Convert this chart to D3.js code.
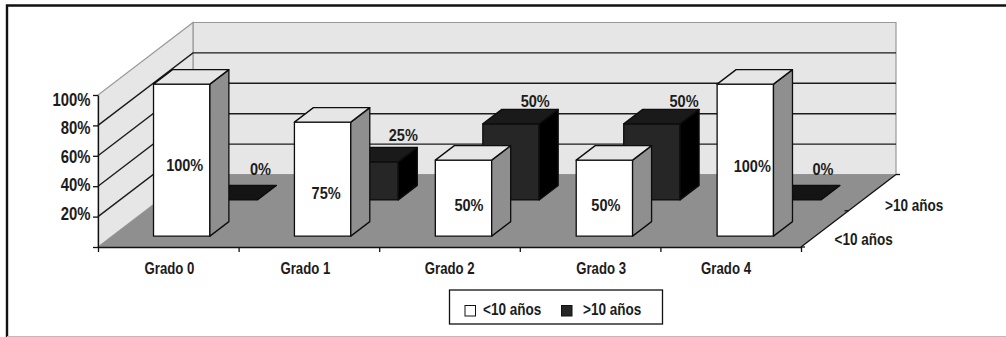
<!DOCTYPE html>
<html>
<head>
<meta charset="utf-8">
<script src="https://cdn.jsdelivr.net/npm/d3@7"></script>
<style>
html,body{margin:0;padding:0;background:#fff;overflow:hidden}
text{font-family:"Liberation Sans",sans-serif;font-weight:700;font-size:16.5px;fill:#1c1c1c}
</style>
</head>
<body>
<script>
// Chart data
const categories = ["Grado 0", "Grado 1", "Grado 2", "Grado 3", "Grado 4"];
const seriesNames = ["<10 años", ">10 años"];
const under10 = [100, 75, 50, 50, 100];
const over10 = [0, 25, 50, 50, 0];
const yTicks = [0, 20, 40, 60, 80, 100];

// Hand placement of the value and category labels, relative to their marks
const under10LabelShift = [[3, 5], [3.5, 14], [5.5, 7], [1.5, 7], [7, 6]];
const over10LabelShift = [[-16, -16], [-14, -12], [-23, -8], [-15, -8], [-17, -16]];
const categoryLabelShift = [2, -3, 0.5, 11, -5];
const yLabelShift = { 20: -3.6, 40: -2, 60: 0, 80: 2, 100: 4 };

const W = 1006, H = 337;
const origin = { x: 98, y: 247 };
const plotW = 703, plotH = 152;
const depth = { x: 95, y: -72.5 };

const svg = d3.select("body").append("svg").attr("width", W).attr("height", H);

const x = d3.scaleBand().domain(categories).range([-1, plotW + 0.5]).paddingInner(0.6).paddingOuter(0.3);
const xTick = d3.scaleLinear().domain([0, categories.length]).range([0, plotW]);
const y = d3.scaleLinear().domain([0, 100]).range([0, plotH]);
const z = d3.scaleBand().domain(seriesNames).range([0, 1]).paddingInner(0.6).paddingOuter(0.3);

// Oblique projection from chart space (x across, v up, d into the page)
const project = (px, v, d) => [origin.x + px + depth.x * d, origin.y - y(v) + depth.y * d];
const poly = pts => pts.map(p => p.join(",")).join(" ");

// Squeezes a text run horizontally to imitate a condensed face
function condense(sel, factor) {
  sel.each(function () {
    const len = this.getComputedTextLength();
    d3.select(this).attr("textLength", len * factor).attr("lengthAdjust", "spacingAndGlyphs");
  });
}

// Outer frame
svg.append("path").attr("d", "M7,337V5.5H1006").attr("fill", "none").attr("stroke", "#111").attr("stroke-width", 2.4);
svg.append("line").attr("x1", 7).attr("x2", W).attr("y1", 336.5).attr("y2", 336.5).attr("stroke", "#bbb");

// Walls and floor
const walls = svg.append("g");
walls.append("polygon").attr("fill", "#e6e6e6").attr("stroke", "#999").attr("stroke-width", 1.2)
  .attr("points", poly([project(0, 0, 1), project(0, 100, 1), project(plotW, 100, 1), project(plotW, 0, 1)]));
walls.append("polygon").attr("fill", "#e6e6e6").attr("stroke", "#999").attr("stroke-width", 1.2)
  .attr("points", poly([project(0, 0, 0), project(0, 100, 0), project(0, 100, 1), project(0, 0, 1)]));
walls.append("polygon").attr("fill", "#8f8f8f")
  .attr("points", poly([project(0, 0, 0), project(0, 0, 1), project(plotW, 0, 1), project(plotW, 0, 0)]));

// Gridlines run along the side wall and across the back wall
const gridVals = yTicks.filter(v => v > 0 && v < 100);
walls.selectAll(".grid").data(gridVals).join("polyline").attr("class", "grid")
  .attr("fill", "none").attr("stroke", "#1c1c1c").attr("stroke-width", 1.4)
  .attr("points", v => poly([project(0, v, 0), project(0, v, 1), project(plotW, v, 1)]));

// Bars: the rear series first so the front one overlaps it
const styles = [
  { front: "#ffffff", top: "#e6e6e6", side: "#8f8f8f" },
  { front: "#262626", top: "#1a1a1a", side: "#000000" }
];
function drawBars(values, seriesIndex) {
  const s = seriesNames[seriesIndex], st = styles[seriesIndex];
  const g = svg.append("g");
  categories.forEach((c, i) => {
    const x0 = x(c), x1 = x0 + x.bandwidth(), z0 = z(s), z1 = z0 + z.bandwidth(), v = values[i];
    const face = (pts, fill) => g.append("polygon").attr("points", poly(pts)).attr("fill", fill)
      .attr("stroke", "#0d0d0d").attr("stroke-width", 1.3).attr("stroke-linejoin", "round");
    if (v > 0) {
      face([project(x0, 0, z0), project(x0, v, z0), project(x1, v, z0), project(x1, 0, z0)], st.front);
      face([project(x1, 0, z0), project(x1, v, z0), project(x1, v, z1), project(x1, 0, z1)], st.side);
    }
    face([project(x0, v, z0), project(x0, v, z1), project(x1, v, z1), project(x1, v, z0)], v > 0 ? st.top : "#141414");
  });
}
drawBars(over10, 1);
drawBars(under10, 0);

// Axis lines, ticks and tick labels
const yAxis = d3.axisLeft(d3.scaleLinear().domain([0, 100]).range([origin.y, origin.y - plotH]))
  .tickValues(yTicks).tickSize(5).tickSizeOuter(0).tickFormat(v => v ? v + "%" : "");
const yG = svg.append("g").attr("transform", `translate(${origin.x},0)`).call(yAxis);
yG.selectAll("path,line").attr("stroke", "#111").attr("stroke-width", 1.3);
yG.selectAll("text").attr("x", -7.5).attr("dy", "0.36em")
  .attr("transform", v => `translate(0,${yLabelShift[v] || 0})`)
  .style("font-size", "17.5px").style("font-family", null).call(condense, 0.85);

const xAxis = d3.axisBottom(xTick).ticks(categories.length).tickSize(5).tickSizeOuter(0).tickFormat("");
const xG = svg.append("g").attr("transform", `translate(${origin.x},${origin.y})`).call(xAxis);
xG.selectAll("path,line").attr("stroke", "#111").attr("stroke-width", 1.3);

// Depth axis at the right of the floor
const depthAxis = svg.append("g").attr("stroke", "#111").attr("stroke-width", 1.3);
const corner = project(plotW, 0, 0), far = project(plotW, 0, 1), mid = project(plotW, 0, 0.5);
depthAxis.append("line").attr("x1", corner[0]).attr("y1", corner[1]).attr("x2", far[0]).attr("y2", far[1]);
[corner, mid, far].forEach(p => depthAxis.append("line")
  .attr("x1", p[0] - (p === mid ? 4 : 0)).attr("y1", p[1]).attr("x2", p[0] + (p === mid ? 0 : 4)).attr("y2", p[1]));

svg.selectAll(".cat").data(categories).join("text").attr("class", "cat")
  .attr("text-anchor", "middle").attr("y", 274)
  .attr("x", (c, i) => origin.x + x(c) + x.bandwidth() / 2 + categoryLabelShift[i])
  .text(c => c).call(condense, 0.8);

const depthLabels = [[834.5, 245], [885, 211]];
svg.selectAll(".depth").data(seriesNames).join("text").attr("class", "depth")
  .attr("x", (s, i) => depthLabels[i][0]).attr("y", (s, i) => depthLabels[i][1]).text(s => s).call(condense, 0.82);

// Value labels
categories.forEach((c, i) => {
  const p = project(x(c) + x.bandwidth() / 2, under10[i] / 2, z(seriesNames[0]));
  svg.append("text").attr("text-anchor", "middle").attr("dy", "0.35em")
    .attr("x", p[0] + under10LabelShift[i][0]).attr("y", p[1] + under10LabelShift[i][1])
    .text(under10[i] + "%").call(condense, 0.88);
  const q = project(x(c) + x.bandwidth(), over10[i], z(seriesNames[1]) + z.bandwidth());
  svg.append("text").attr("text-anchor", "middle").attr("dy", "0.35em")
    .attr("x", q[0] + over10LabelShift[i][0]).attr("y", q[1] + over10LabelShift[i][1])
    .text(over10[i] + "%").call(condense, 0.88);
});

// Legend
const legend = svg.append("g");
legend.append("rect").attr("x", 449.5).attr("y", 290).attr("width", 213).attr("height", 34)
  .attr("fill", "#fff").attr("stroke", "#111").attr("stroke-width", 1.3);
const legendX = [465, 561.5], legendTextX = [483, 583];
seriesNames.forEach((s, i) => {
  legend.append("rect").attr("x", legendX[i]).attr("y", 305.5).attr("width", 10.5).attr("height", 10.5)
    .attr("fill", styles[i].front).attr("stroke", "#111").attr("stroke-width", 1);
  legend.append("text").attr("x", legendTextX[i]).attr("y", 315).text(s).call(condense, 0.82);
});
</script>
</body>
</html>
